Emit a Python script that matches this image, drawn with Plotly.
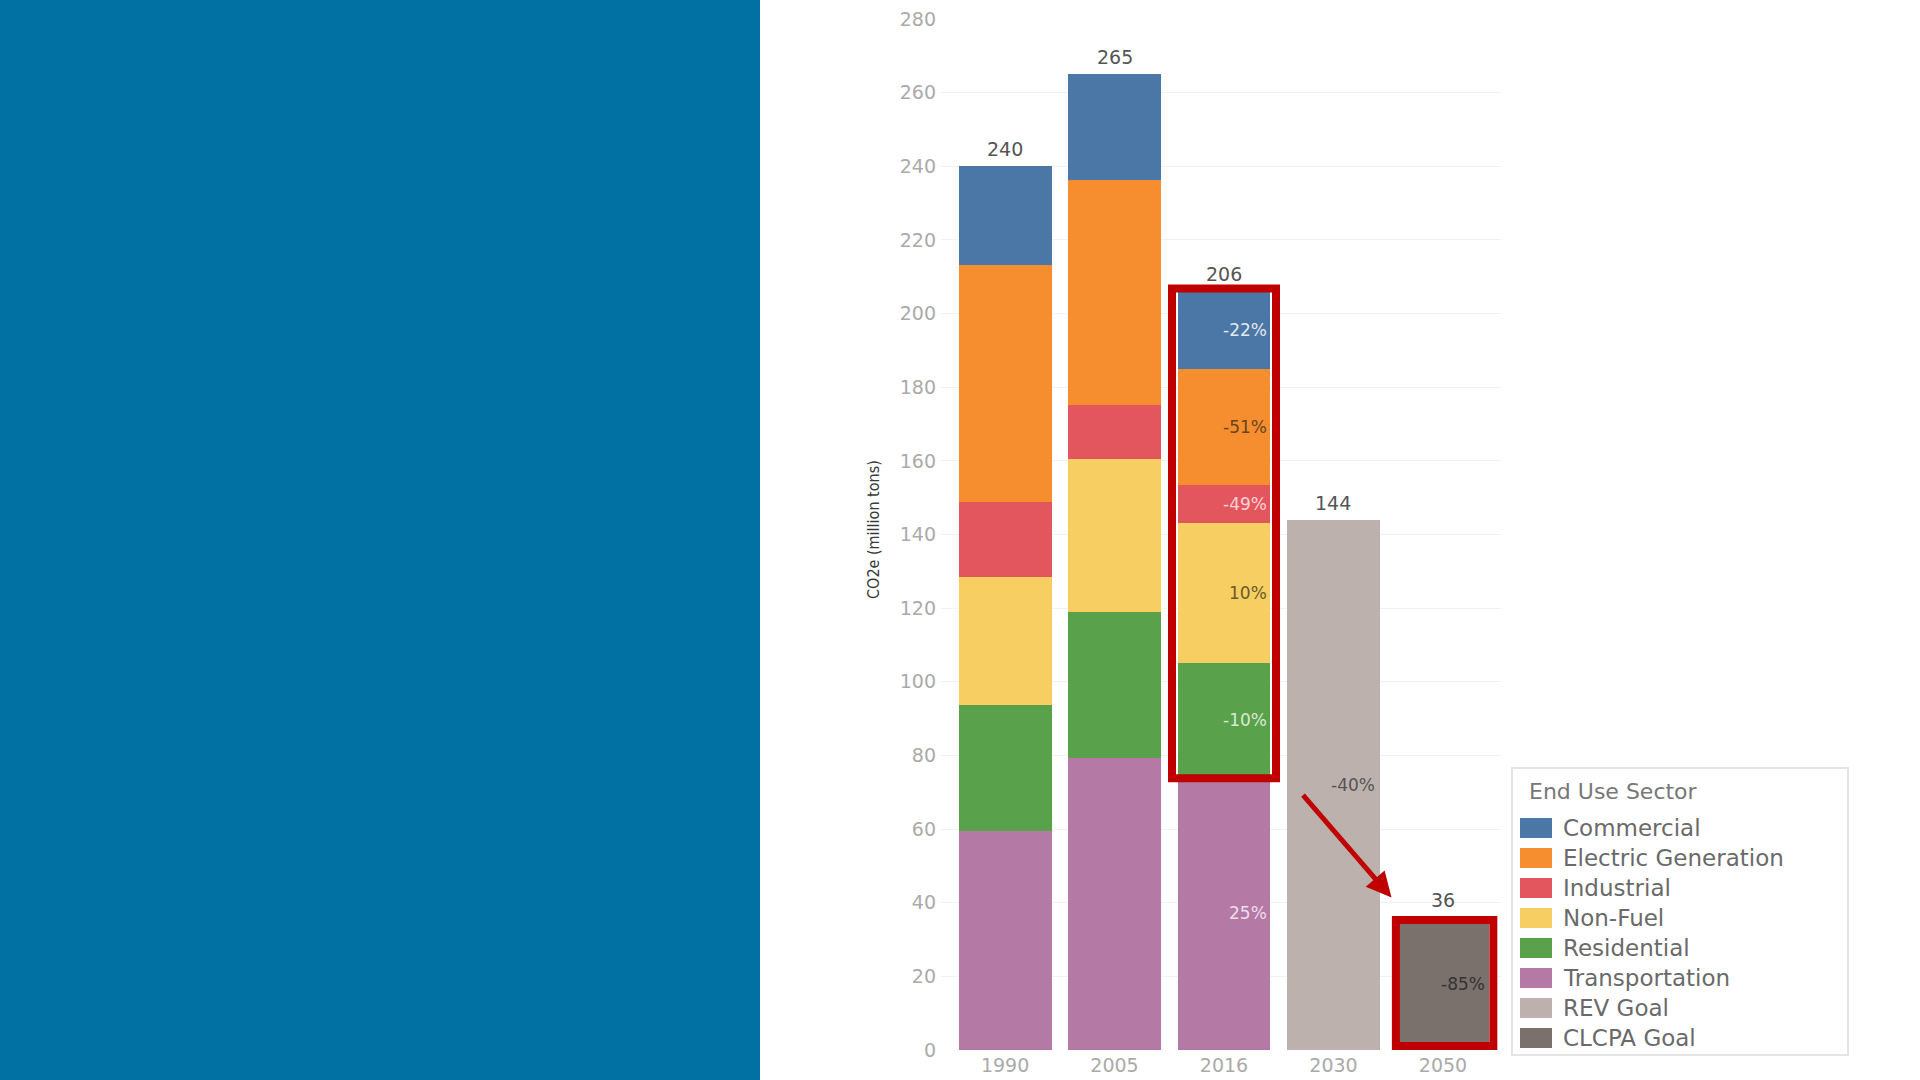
import plotly.graph_objects as go

# data
years = ["1990", "2005", "2016", "2030", "2050"]
sectors = ["Transportation", "Residential", "Non-Fuel", "Industrial", "Electric Generation", "Commercial"]
transportation = [59.4, 79.3, 74.2, None, None]
residential = [34.3, 39.7, 30.8, None, None]
non_fuel = [34.8, 41.4, 38.2, None, None]
industrial = [20.2, 14.9, 10.3, None, None]
electric = [64.4, 61.0, 31.5, None, None]
commercial = [26.9, 28.7, 21.0, None, None]
rev_goal = [None, None, None, 144, None]
clcpa_goal = [None, None, None, None, 36]
pct_2016 = ["25%", "-10%", "10%", "-49%", "-51%", "-22%"]
pct_goals = ["-40%", "-85%"]

legend_order = ["Commercial", "Electric Generation", "Industrial", "Non-Fuel",
                "Residential", "Transportation", "REV Goal", "CLCPA Goal"]
colors = {
    "Commercial": "#4A77A6",
    "Electric Generation": "#F68D2E",
    "Industrial": "#E4565D",
    "Non-Fuel": "#F6CE62",
    "Residential": "#5AA14C",
    "Transportation": "#B479A5",
    "REV Goal": "#BCB1AC",
    "CLCPA Goal": "#7A706C",
}
pct_colors = ["#EEDDEA", "#D8EAD3", "#6B5A2A", "#F6D3D5", "#6A4420", "#E2E8F0"]

stack = dict(zip(sectors, [transportation, residential, non_fuel, industrial, electric, commercial]))

# layout in pixels
W, H = 1920, 1080
L, R, T, B = 941, 419, 19, 30
PW, PH = W - L - R, H - T - B


def px(xp):
    return (xp - L) / PW


def py(yp):
    return (H - B - yp) / PH


FONT = "DejaVu Sans"

fig = go.Figure()

for name in sectors:
    fig.add_trace(go.Bar(x=years, y=stack[name], name=name,
                         marker=dict(color=colors[name], line=dict(width=0))))
fig.add_trace(go.Bar(x=years, y=rev_goal, name="REV Goal",
                     marker=dict(color=colors["REV Goal"], line=dict(width=0))))
fig.add_trace(go.Bar(x=years, y=clcpa_goal, name="CLCPA Goal",
                     marker=dict(color=colors["CLCPA Goal"], line=dict(width=0))))

annotations = []

# totals above bars
all_series = list(stack.values()) + [rev_goal, clcpa_goal]
totals = []
for i, yr in enumerate(years):
    tot = sum(s[i] for s in all_series if s[i] is not None)
    totals.append(tot)
    annotations.append(dict(x=i, y=tot, xref="x", yref="y", text=f"{tot:.0f}", showarrow=False,
                            yanchor="middle", yshift=17,
                            font=dict(family=FONT, size=19, color="#555555")))

# percentage labels inside 2016 segments
base = 0
i16 = years.index("2016")
for name, txt, c in zip(sectors, pct_2016, pct_colors):
    v = stack[name][i16]
    annotations.append(dict(x=i16, y=base + v / 2, xref="x", yref="y", text=txt, showarrow=False,
                            xanchor="right", xshift=45,
                            font=dict(family=FONT, size=17, color=c)))
    base += v

for yr, txt, c in zip(["2030", "2050"], pct_goals, ["#555555", "#333333"]):
    i = years.index(yr)
    annotations.append(dict(x=i, y=totals[i] / 2, xref="x", yref="y", text=txt, showarrow=False,
                            xanchor="right", xshift=44,
                            font=dict(family=FONT, size=17, color=c)))

# arrow 2030 -> 2050
annotations.append(dict(x=3.53, y=41.4, ax=2.71, ay=69.6, axref="x", ayref="y",
                        xref="x", yref="y", text="", showarrow=True,
                        arrowhead=2, arrowsize=1, arrowwidth=5, arrowcolor="#C00000"))

# y axis title
annotations.append(dict(x=px(873), y=py(530), xref="paper", yref="paper",
                        text="CO2e (million tons)", textangle=-90, showarrow=False,
                        yanchor="middle", xanchor="center",
                        font=dict(family="Liberation Sans Narrow, DejaVu Sans Condensed", size=16,
                                  color="#3A3A3A")))

shapes = []
# blue side panel
shapes.append(dict(type="rect", xref="paper", yref="paper",
                   x0=px(-2), x1=px(760), y0=py(H + 2), y1=py(-2),
                   fillcolor="#0170A2", line=dict(width=0), layer="below"))

# red highlight boxes
top16 = totals[i16]
shapes.append(dict(type="rect", xref="x", yref="y",
                   x0=1.525, x1=2.475, y0=transportation[i16] - 0.4, y1=top16 + 0.8,
                   line=dict(color="#C00000", width=8)))
shapes.append(dict(type="rect", xref="x", yref="y",
                   x0=3.57, x1=4.46, y0=1.1, y1=clcpa_goal[4] - 0.7,
                   line=dict(color="#C00000", width=8)))

# custom legend
shapes.append(dict(type="rect", xref="paper", yref="paper",
                   x0=px(1512), x1=px(1848), y0=py(1055), y1=py(768),
                   fillcolor="white", line=dict(color="#E4E4E4", width=2)))
annotations.append(dict(x=px(1527), y=py(792), xref="paper", yref="paper",
                        text="End Use Sector", showarrow=False, xanchor="left", yanchor="middle",
                        font=dict(family=FONT, size=22, color="#777777")))
for k, name in enumerate(legend_order):
    yc = 828 + 30 * k
    shapes.append(dict(type="rect", xref="paper", yref="paper",
                       x0=px(1520), x1=px(1552), y0=py(yc + 10), y1=py(yc - 10),
                       fillcolor=colors[name], line=dict(width=0)))
    annotations.append(dict(x=px(1561), y=py(yc), xref="paper", yref="paper",
                            text=name, showarrow=False, xanchor="left", yanchor="middle",
                            font=dict(family=FONT, size=23, color="#6A6A6A")))

fig.update_layout(
    width=W, height=H,
    margin=dict(l=L, r=R, t=T, b=B, autoexpand=False),
    barmode="stack", bargap=0.151,
    paper_bgcolor="white", plot_bgcolor="white",
    showlegend=False,
    shapes=shapes, annotations=annotations,
    xaxis=dict(type="category", categoryorder="array", categoryarray=years,
               range=[-0.585, 4.53], showgrid=False, zeroline=False, showline=False,
               ticks="", ticklabelstandoff=2,
               tickfont=dict(family=FONT, size=19, color="#AAAAAA")),
    yaxis=dict(range=[0, 280], dtick=20, showgrid=True, gridcolor="#F2F2F2", gridwidth=1,
               zeroline=False, showline=False, ticks="", ticklabelstandoff=4,
               tickfont=dict(family=FONT, size=19, color="#AAAAAA")),
)

fig.write_html("out.html", config={"displayModeBar": False},
               post_script="document.body.style.margin='0';")
